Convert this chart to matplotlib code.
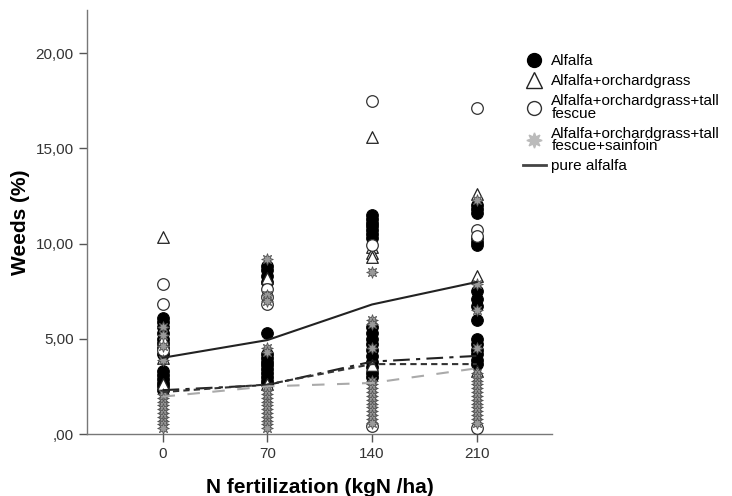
import matplotlib
matplotlib.use("Agg")
import matplotlib.pyplot as plt
from matplotlib.lines import Line2D

plt.rcParams['font.family'] = ['Liberation Sans', 'DejaVu Sans']

x_levels = [0, 70, 140, 210]
x_ticklabels = ["0", "70", "140", "210"]
y_ticks = [0, 5, 10, 15, 20]
y_ticklabels = [",00", "5,00", "10,00", "15,00", "20,00"]

# Alfalfa (filled black circles)
alfalfa = {
    0: [6.1, 5.9, 5.6, 5.3, 5.0, 4.8, 4.5, 4.2, 3.3, 3.1, 2.9, 2.7, 2.5, 2.3],
    70: [8.8, 8.6, 8.3, 8.0, 5.3, 4.2, 4.0, 3.8, 3.6, 3.4, 3.2, 3.0, 2.8, 2.6],
    140: [11.5, 11.3, 11.1, 10.9, 10.7, 10.5, 10.3, 5.6, 5.3, 5.0, 4.7, 4.4, 4.1, 3.8, 3.5, 3.2, 3.0],
    210: [12.0, 11.8, 11.6, 10.3, 10.1, 9.9, 7.5, 7.1, 6.7, 6.0, 5.0, 4.7, 4.4, 4.2, 3.9, 3.7],
}
# Alfalfa+orchardgrass (open triangles)
alf_orch = {
    0: [10.34, 5.0, 4.0, 2.6],
    70: [8.2, 2.6],
    140: [15.6, 9.8, 9.5, 9.3, 3.6],
    210: [12.6, 8.3, 3.3],
}
# Alfalfa+orchardgrass+tall fescue (open circles)
alf_orch_tf = {
    0: [7.9, 6.8, 4.4],
    70: [7.6, 7.2, 6.8],
    140: [17.5, 9.9, 0.4],
    210: [17.1, 10.7, 10.4, 0.3],
}
# Alfalfa+orchardgrass+tall fescue+sainfoin (grey stars)
alf_orch_tf_sf = {
    0: [5.6, 5.2, 4.6, 3.9, 2.1, 1.9, 1.7, 1.5, 1.3, 1.1, 0.9, 0.7, 0.5, 0.3],
    70: [9.2, 7.3, 7.0, 4.5, 4.3, 2.3, 2.1, 1.9, 1.7, 1.5, 1.3, 1.1, 0.9, 0.7, 0.5, 0.3],
    140: [8.5, 6.0, 5.8, 4.5, 2.8, 2.6, 2.4, 2.2, 2.0, 1.8, 1.6, 1.4, 1.2, 1.0, 0.8, 0.6],
    210: [12.3, 7.9, 6.5, 4.5, 3.2, 3.0, 2.8, 2.6, 2.4, 2.2, 2.0, 1.8, 1.6, 1.4, 1.2, 1.0, 0.8, 0.6],
}

# Fit lines
line_pure_alfalfa = [4.0, 4.93, 6.8, 7.98]
line_dashdot = [2.3, 2.57, 3.8, 4.1]
line_dotted = [2.2, 2.6, 3.67, 3.67]
line_grey_dashed = [1.96, 2.5, 2.68, 3.45]

fig = plt.figure(figsize=(7.32, 4.96), dpi=100)
ax = fig.add_axes([87/732, 1-434/496, (552-87)/732, (434-10)/496])


def flatten(d):
    xs, ys = [], []
    for k in x_levels:
        for v in d[k]:
            xs.append(k)
            ys.append(v)
    return xs, ys


star = (8, 1, 0)
ms = 70
xs, ys = flatten(alfalfa)
ax.scatter(xs, ys, s=ms, marker='o', facecolor='black', edgecolor='black',
           linewidth=0.8, clip_on=False, zorder=2)
xs, ys = flatten(alf_orch)
ax.scatter(xs, ys, s=ms, marker='^', facecolor='white', edgecolor='#222222',
           linewidth=0.9, clip_on=False, zorder=3)
xs, ys = flatten(alf_orch_tf)
ax.scatter(xs, ys, s=ms, marker='o', facecolor='white', edgecolor='#333333',
           linewidth=0.9, clip_on=False, zorder=3)
xs, ys = flatten(alf_orch_tf_sf)
ax.scatter(xs, ys, s=ms, marker=star, facecolor='#9a9a9a', edgecolor='#555555',
           linewidth=0.6, clip_on=False, zorder=4)

ax.plot(x_levels, line_pure_alfalfa, color='#222222', lw=1.5, zorder=5)
ax.plot(x_levels, line_dashdot, color='#222222', lw=1.5, ls=(0, (8, 3, 2, 3)), zorder=5)
ax.plot(x_levels, line_dotted, color='#333333', lw=1.5, ls=(0, (3, 2)), zorder=5)
ax.plot(x_levels, line_grey_dashed, color='#aaaaaa', lw=1.5, ls=(0, (6, 6)), zorder=5)

ax.set_xlim(-50.5, 260.3)
ax.set_ylim(0, 22.26)
ax.set_xticks(x_levels)
ax.set_xticklabels(x_ticklabels)
ax.set_yticks(y_ticks)
ax.set_yticklabels(y_ticklabels)
for s in ['top', 'right']:
    ax.spines[s].set_visible(False)
for s in ['left', 'bottom']:
    ax.spines[s].set_color('#777777')
    ax.spines[s].set_linewidth(1.0)
ax.tick_params(axis='both', colors='#555555', labelcolor='#333333', labelsize=11,
               length=6, width=1.0)

ax.set_xlabel('N fertilization (kgN /ha)', fontsize=15, fontweight='bold', labelpad=12)
ax.set_ylabel('Weeds (%)', fontsize=15, fontweight='bold', labelpad=4)

handles = [
    Line2D([], [], marker='o', ls='none', markerfacecolor='black', markeredgecolor='black', markersize=10),
    Line2D([], [], marker='^', ls='none', markerfacecolor='white', markeredgecolor='#222222', markersize=11),
    Line2D([], [], marker='o', ls='none', markerfacecolor='white', markeredgecolor='#333333', markersize=10),
    Line2D([], [], marker=star, ls='none', markerfacecolor='#bbbbbb', markeredgecolor='#bbbbbb', markersize=11),
    Line2D([], [], color='#444444', lw=2),
]
labels = ['Alfalfa', 'Alfalfa+orchardgrass', 'Alfalfa+orchardgrass+tall\nfescue',
          'Alfalfa+orchardgrass+tall\nfescue+sainfoin', 'pure alfalfa']
leg = fig.legend(handles, labels, loc='upper left', bbox_to_anchor=(523/732, 1-54/496),
                 frameon=False, fontsize=11, handlelength=1.5, handletextpad=0.35,
                 labelspacing=0.4, borderaxespad=0, borderpad=0)
for t in leg.get_texts():
    t.set_linespacing(0.85)

fig.savefig('out.png', dpi=100)
